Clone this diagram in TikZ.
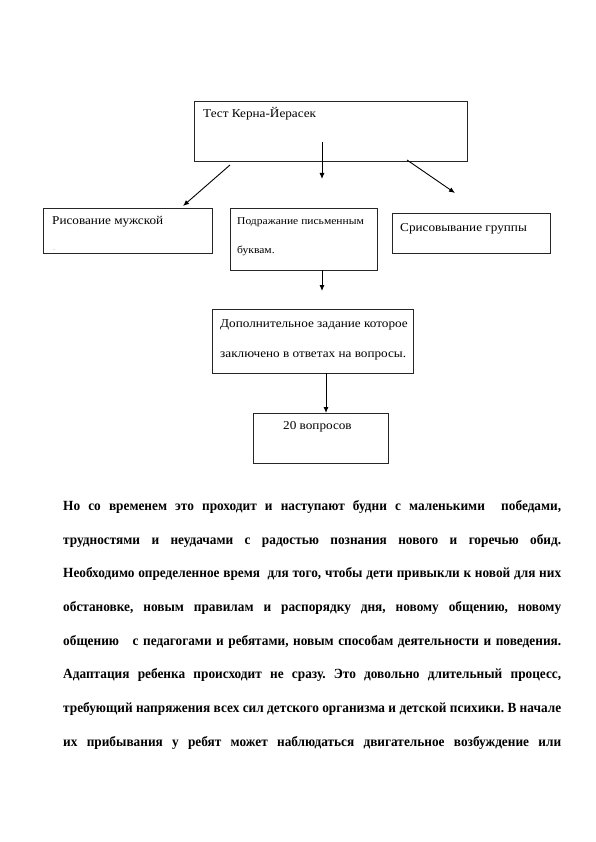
\documentclass[tikz,border=0pt]{standalone}
\usepackage{fontspec}
\setmainfont{Liberation Serif}
\newfontfamily\boxfont[FakeStretch=1.10]{Liberation Serif}
\newfontfamily\parafont[FakeStretch=0.95]{Liberation Serif}
\usetikzlibrary{arrows.meta}
\newcommand{\pline}[1]{\frenchspacing\spaceskip=3.5pt plus 20pt minus 2pt\relax\makebox[498pt][s]{#1}}
\begin{document}
\begin{tikzpicture}[x=1pt,y=-1pt,
  box/.style={draw=black!85, line width=1pt, anchor=north west, inner sep=0pt},
  txt/.style={anchor=base west, inner sep=0pt, font=\boxfont\fontsize{12}{14}\selectfont},
  stxt/.style={anchor=base west, inner sep=0pt, font=\boxfont\fontsize{10.5}{13}\selectfont},
  arr/.style={line width=0.9pt, -{Latex[length=6pt,width=5pt]}},
  para/.style={anchor=base west, inner sep=0pt, font=\parafont\bfseries\fontsize{14}{16}\selectfont}]
\useasboundingbox (0,0) rectangle (595,842);
% boxes
\node[box, minimum width=273pt, minimum height=60pt] (b1) at (194,101) {};
\node[box, minimum width=169pt, minimum height=45pt] (b2) at (43,208) {};
\node[box, minimum width=147pt, minimum height=62pt] (b3) at (230,208) {};
\node[box, minimum width=158pt, minimum height=40pt] (b4) at (392,213) {};
\node[box, minimum width=201pt, minimum height=64pt] (b5) at (212,309) {};
\node[box, minimum width=135pt, minimum height=50pt] (b6) at (253,413) {};
% box texts
\node[txt] (t1) at (203,118) {Тест Керна-Йерасек};
\node[txt] (t2) at (52,224) {Рисование мужской};
\node[anchor=base west, inner sep=0pt, text=black!40, font=\fontsize{8}{8}\selectfont] (t2b) at (53,250) {.};
\node[stxt] (t3a) at (237,224) {Подражание письменным};
\node[stxt] (t3b) at (237,253) {буквам.};
\node[txt] (t4) at (400,231) {Срисовывание группы};
\node[txt] (t5a) at (220,327) {Дополнительное задание которое};
\node[txt] (t5b) at (220,357) {заключено в ответах на вопросы.};
\node[txt] (t6) at (283,429) {20 вопросов};
% arrow ends
\coordinate (a1s) at (230,165); \coordinate (a1e) at (183,206);
\coordinate (a2s) at (322,142); \coordinate (a2e) at (322,179);
\coordinate (a3s) at (407,160); \coordinate (a3e) at (455,193);
\coordinate (a4s) at (322,270); \coordinate (a4e) at (322,291);
\coordinate (a5s) at (326,373); \coordinate (a5e) at (326,413);
\draw[arr] (a1s) -- (a1e);
\draw[arr] (a2s) -- (a2e);
\draw[arr] (a3s) -- (a3e);
\draw[arr] (a4s) -- (a4e);
\draw[arr] (a5s) -- (a5e);
% paragraph
\node[para] (p1) at (63,510) {\pline{Но со временем это проходит и наступают будни с маленькими\ \ победами,}};
\node[para] (p2) at (63,544) {\pline{трудностями и неудачами с радостью познания нового и горечью обид.}};
\node[para] (p3) at (63,577) {\pline{Необходимо определенное время\ \ для того, чтобы дети привыкли к новой для них}};
\node[para] (p4) at (63,611) {\pline{обстановке, новым правилам и распорядку дня, новому общению, новому}};
\node[para] (p5) at (63,645) {\pline{общению\ \ \ с педагогами и ребятами, новым способам деятельности и поведения.}};
\node[para] (p6) at (63,678) {\pline{Адаптация ребенка происходит не сразу. Это довольно длительный процесс,}};
\node[para] (p7) at (63,712) {\pline{требующий напряжения всех сил детского организма и детской психики. В начале}};
\node[para] (p8) at (63,746) {\pline{их прибывания у ребят может наблюдаться двигательное возбуждение или}};
\end{tikzpicture}
\end{document}
